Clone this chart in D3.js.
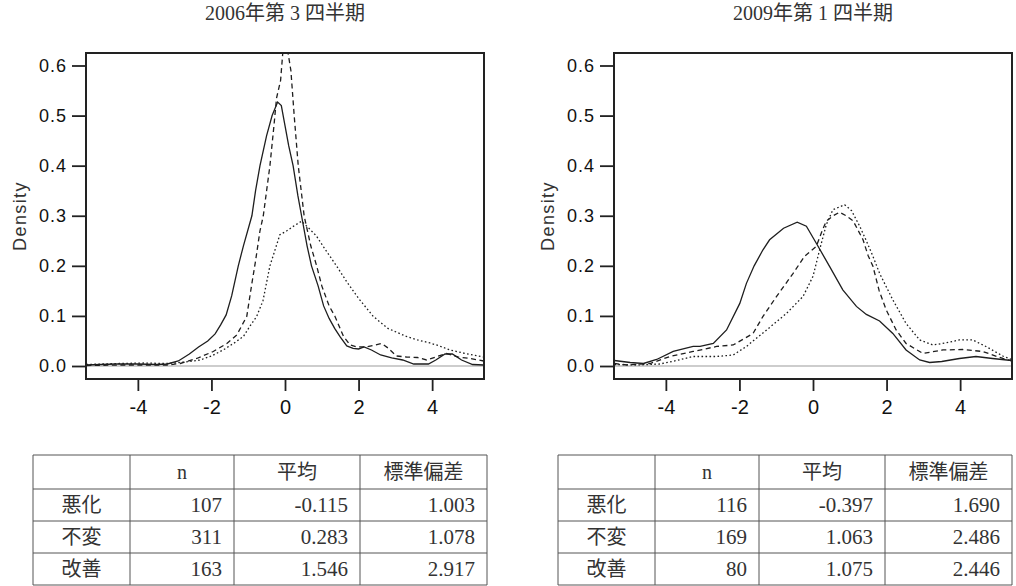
<!DOCTYPE html>
<html><head><meta charset="utf-8">
<script src="https://cdn.jsdelivr.net/npm/d3@7"></script>
<style>
html,body{margin:0;padding:0;background:#fff;}
svg{display:block;}
</style>
</head><body>
<svg id="c" width="1016" height="586"></svg>
<script>
// ---------------- data ----------------
const titles = ["2006年第 3 四半期", "2009年第 1 四半期"];
const xTicks = [-4, -2, 0, 2, 4];
const yTicks = [0, 0.1, 0.2, 0.3, 0.4, 0.5, 0.6];
const seriesNames = ["悪化", "不変", "改善"];

// 2006 Q3 density curves [x, density]
const q2006_worse = [[-5.4,0.002],[-4.6,0.004],[-4.0,0.004],[-3.5,0.003],[-3.2,0.004],[-2.9,0.01],[-2.6,0.024],[-2.35,0.038],[-2.1,0.05],[-1.9,0.064],[-1.75,0.082],[-1.6,0.102],[-1.45,0.14],[-1.27,0.2],[-1.13,0.24],[-0.9,0.3],[-0.8,0.35],[-0.68,0.4],[-0.5,0.46],[-0.35,0.5],[-0.2,0.527],[-0.1,0.52],[0.0,0.48],[0.1,0.44],[0.22,0.4],[0.35,0.34],[0.45,0.3],[0.6,0.24],[0.72,0.2],[0.9,0.16],[1.05,0.12],[1.2,0.095],[1.35,0.075],[1.5,0.058],[1.68,0.04],[1.85,0.035],[2.0,0.034],[2.15,0.038],[2.35,0.032],[2.6,0.022],[2.9,0.016],[3.2,0.012],[3.5,0.004],[3.9,0.004],[4.1,0.012],[4.35,0.024],[4.55,0.024],[4.8,0.012],[5.1,0.003],[5.4,0.002]];
const q2006_same = [[-5.4,0.001],[-4.5,0.002],[-3.8,0.002],[-3.2,0.002],[-2.85,0.005],[-2.4,0.015],[-1.95,0.029],[-1.58,0.045],[-1.31,0.062],[-1.04,0.099],[-0.9,0.165],[-0.8,0.21],[-0.68,0.27],[-0.59,0.3],[-0.5,0.35],[-0.41,0.4],[-0.3,0.48],[-0.23,0.535],[-0.12,0.57],[-0.05,0.635],[0.05,0.64],[0.16,0.59],[0.25,0.5],[0.36,0.4],[0.52,0.3],[0.7,0.24],[0.86,0.2],[1.0,0.16],[1.2,0.12],[1.36,0.099],[1.59,0.059],[1.77,0.042],[1.95,0.038],[2.2,0.038],[2.45,0.042],[2.63,0.045],[2.8,0.036],[3.03,0.02],[3.3,0.018],[3.6,0.017],[3.85,0.012],[4.1,0.018],[4.39,0.025],[4.7,0.018],[5.03,0.015],[5.4,0.01]];
const q2006_better = [[-5.4,0.003],[-4.5,0.005],[-3.8,0.006],[-3.3,0.005],[-3.0,0.006],[-2.6,0.009],[-2.31,0.012],[-2.0,0.02],[-1.68,0.032],[-1.4,0.045],[-1.13,0.059],[-0.95,0.08],[-0.77,0.099],[-0.6,0.13],[-0.41,0.2],[-0.27,0.232],[-0.14,0.262],[0.05,0.27],[0.25,0.28],[0.45,0.289],[0.65,0.275],[0.85,0.26],[1.1,0.232],[1.4,0.2],[1.68,0.168],[2.0,0.135],[2.4,0.099],[2.8,0.075],[3.3,0.059],[3.6,0.052],[3.94,0.046],[4.2,0.04],[4.48,0.032],[4.9,0.025],[5.4,0.018]];

// 2009 Q1 density curves [x, density]
const q2009_worse = [[-5.4,0.011],[-4.97,0.007],[-4.61,0.005],[-4.25,0.013],[-3.8,0.029],[-3.26,0.039],[-3.07,0.039],[-2.71,0.045],[-2.35,0.072],[-1.99,0.125],[-1.81,0.165],[-1.6,0.2],[-1.36,0.232],[-1.18,0.252],[-0.8,0.275],[-0.43,0.287],[-0.18,0.279],[0.09,0.245],[0.45,0.199],[0.81,0.152],[1.18,0.119],[1.45,0.103],[1.81,0.09],[2.17,0.065],[2.53,0.032],[2.9,0.012],[3.17,0.007],[3.5,0.009],[3.98,0.015],[4.43,0.019],[4.88,0.015],[5.4,0.011]];
const q2009_same = [[-5.4,0.005],[-5.06,0.002],[-4.43,0.005],[-3.89,0.019],[-3.26,0.029],[-2.62,0.039],[-2.17,0.042],[-1.63,0.065],[-1.36,0.099],[-0.99,0.139],[-0.54,0.185],[-0.23,0.219],[0.09,0.239],[0.25,0.27],[0.36,0.289],[0.55,0.3],[0.72,0.307],[0.9,0.3],[1.09,0.29],[1.36,0.252],[1.5,0.22],[1.63,0.199],[1.8,0.15],[1.99,0.112],[2.26,0.072],[2.53,0.045],[2.99,0.025],[3.53,0.032],[4.07,0.033],[4.61,0.029],[5.16,0.015],[5.4,0.01]];
const q2009_better = [[-5.4,0.003],[-4.8,0.002],[-4.16,0.004],[-3.71,0.011],[-3.26,0.019],[-2.62,0.019],[-2.17,0.022],[-1.81,0.039],[-1.26,0.072],[-0.72,0.105],[-0.27,0.139],[0.0,0.179],[0.18,0.232],[0.36,0.282],[0.54,0.312],[0.86,0.322],[1.05,0.31],[1.27,0.279],[1.45,0.25],[1.63,0.219],[1.81,0.185],[2.17,0.132],[2.53,0.085],[2.9,0.052],[3.26,0.042],[3.6,0.046],[3.98,0.052],[4.34,0.052],[4.7,0.039],[5.16,0.02],[5.4,0.013]];

// summary tables
const tableHeader = ["", "n", "平均", "標準偏差"];
const q2006_n = [107, 311, 163];
const q2006_mean = ["-0.115", "0.283", "1.546"];
const q2006_sd = ["1.003", "1.078", "2.917"];
const q2009_n = [116, 169, 80];
const q2009_mean = ["-0.397", "1.063", "1.075"];
const q2009_sd = ["1.690", "2.486", "2.446"];

// ---------------- drawing ----------------
const svg = d3.select("#c");
const serif = "'Liberation Serif','Noto Sans CJK JP',serif";
const sans = "'Liberation Sans',Arial,sans-serif";
const ink = "#1e1e1e";

const panels = [
  {left: 86, title: titles[0], curves: [q2006_worse, q2006_same, q2006_better],
   n: q2006_n, mean: q2006_mean, sd: q2006_sd, tableLeft: 33},
  {left: 614, title: titles[1], curves: [q2009_worse, q2009_same, q2009_better],
   n: q2009_n, mean: q2009_mean, sd: q2009_sd, tableLeft: 558}
];
const boxTop = 53, boxBottom = 379, boxW = 398;
const dashes = [null, "5,3.5", "1.6,2.4"];

panels.forEach((p, pi) => {
  const x = d3.scaleLinear().domain([-5.41, 5.41]).range([p.left, p.left + boxW]);
  const y = d3.scaleLinear().domain([0, 0.6]).range([366, 65.5]);
  const g = svg.append("g");

  // title
  g.append("text").attr("x", x(0)).attr("y", 20)
    .attr("text-anchor", "middle").attr("font-family", serif)
    .attr("font-size", 20).attr("fill", "#333").text(p.title);

  // clip
  const cid = "clip" + pi;
  svg.append("clipPath").attr("id", cid).append("rect")
    .attr("x", p.left).attr("y", boxTop).attr("width", boxW).attr("height", boxBottom - boxTop);

  // zero line
  g.append("line").attr("x1", p.left).attr("x2", p.left + boxW)
    .attr("y1", y(0)).attr("y2", y(0)).attr("stroke", "#bdbdbd").attr("stroke-width", 1.6);

  // curves
  const line = d3.line().x(d => x(d[0])).y(d => y(d[1])).curve(d3.curveLinear);
  p.curves.forEach((c, i) => {
    g.append("path").datum(c).attr("d", line)
      .attr("clip-path", `url(#${cid})`)
      .attr("fill", "none").attr("stroke", ink).attr("stroke-width", 1.3)
      .attr("stroke-dasharray", dashes[i]);
  });

  // box
  g.append("rect").attr("x", p.left).attr("y", boxTop).attr("width", boxW)
    .attr("height", boxBottom - boxTop).attr("fill", "none")
    .attr("stroke", "#222").attr("stroke-width", 2);

  // y axis
  const ya = g.append("g").attr("transform", `translate(${p.left},0)`)
    .call(d3.axisLeft(y).tickValues(yTicks).tickSize(14).tickPadding(5).tickFormat(d3.format(".1f")));
  ya.select(".domain").remove();
  ya.selectAll("line").attr("stroke", "#222").attr("stroke-width", 1.8);
  ya.selectAll("text").attr("font-family", sans).attr("font-size", 18)
    .attr("letter-spacing", 1).attr("fill", "#111");

  // x axis
  const xa = g.append("g").attr("transform", `translate(0,${boxBottom})`)
    .call(d3.axisBottom(x).tickValues(xTicks).tickSize(12).tickPadding(9).tickFormat(d => String(d)));
  xa.select(".domain").remove();
  xa.selectAll("line").attr("stroke", "#222").attr("stroke-width", 1.8);
  xa.selectAll("text").attr("font-family", sans).attr("font-size", 20).attr("fill", "#111");

  // Density label
  g.append("text").attr("transform", `translate(${p.left - 66},${(boxTop + boxBottom) / 2}) rotate(-90)`)
    .attr("text-anchor", "middle").attr("dominant-baseline", "central")
    .attr("font-family", sans).attr("font-size", 18).attr("letter-spacing", 1.4)
    .attr("fill", "#333").text("Density");

  // table
  const tl = p.tableLeft;
  const colEdges = [tl, tl + 97, tl + 201, tl + 327, tl + 454];
  const rowEdges = [455, 489, 521, 553, 585];
  const tg = g.append("g");
  colEdges.forEach(cx => tg.append("line").attr("x1", cx).attr("x2", cx)
    .attr("y1", rowEdges[0]).attr("y2", rowEdges[rowEdges.length - 1])
    .attr("stroke", "#555").attr("stroke-width", 1));
  rowEdges.forEach(ry => tg.append("line").attr("x1", colEdges[0]).attr("x2", colEdges[4])
    .attr("y1", ry).attr("y2", ry).attr("stroke", "#555").attr("stroke-width", 1));
  tableHeader.forEach((h, ci) => {
    tg.append("text").attr("x", (colEdges[ci] + colEdges[ci + 1]) / 2)
      .attr("y", (rowEdges[0] + rowEdges[1]) / 2).attr("dominant-baseline", "central")
      .attr("text-anchor", "middle").attr("font-family", serif).attr("font-size", 20)
      .attr("fill", "#333").text(h);
  });
  seriesNames.forEach((s, ri) => {
    const cy = (rowEdges[ri + 1] + rowEdges[ri + 2]) / 2;
    tg.append("text").attr("x", (colEdges[0] + colEdges[1]) / 2).attr("y", cy)
      .attr("dominant-baseline", "central").attr("text-anchor", "middle")
      .attr("font-family", serif).attr("font-size", 20).attr("fill", "#333").text(s);
    [p.n[ri], p.mean[ri], p.sd[ri]].forEach((v, ci) => {
      tg.append("text").attr("x", colEdges[ci + 2] - 12).attr("y", cy)
        .attr("dominant-baseline", "central").attr("text-anchor", "end")
        .attr("font-family", serif).attr("font-size", 21).attr("fill", "#333").text(v);
    });
  });
});
</script>
</body></html>
